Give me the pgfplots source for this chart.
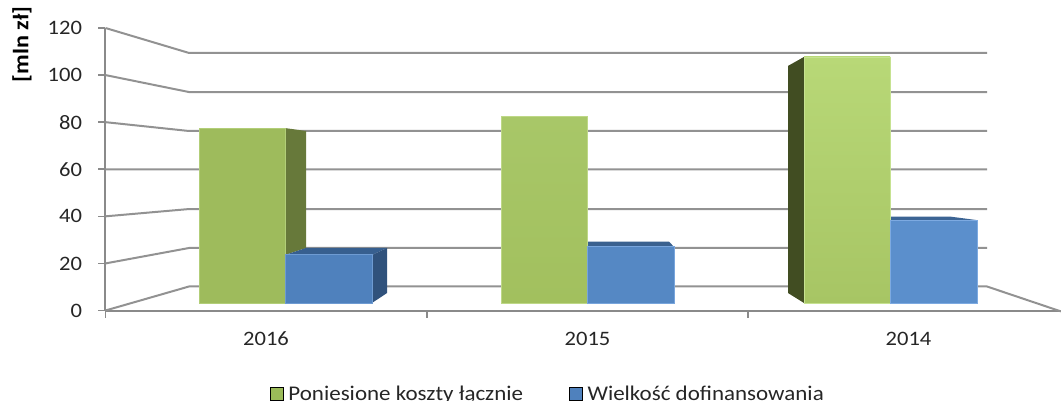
\documentclass[border=0pt]{standalone}
\usepackage{fontspec}
\setmainfont[FakeStretch=1.1]{Carlito}
\usepackage{pgfplots}
\pgfplotsset{compat=1.18}
\definecolor{gridc}{HTML}{929292}
\definecolor{axc}{HTML}{8A8A8A}
\definecolor{txt}{HTML}{262626}
\definecolor{legG}{HTML}{9BBB59}
\definecolor{legB}{HTML}{4F81BD}
\begin{document}
\begin{tikzpicture}[x=1pt,y=1pt]
\useasboundingbox (0,0) rectangle (1061,400);
\begin{axis}[
  at={(105.5pt,89.5pt)},anchor=south west,
  scale only axis,width=955.5pt,height=282.5pt,
  xmin=105.5,xmax=1061,ymin=0,ymax=120,
  clip=false,
  axis x line=bottom,axis y line=left,
  axis line style={-,draw=axc,line width=2pt},
  tick align=outside,
  major tick length=7pt,
  tick style={draw=axc,line width=1.6pt},
  xtick={105.5,427,748},
  xticklabels={2016,2015,2014},
  ytick={0,20,40,60,80,100,120},
  x tick label style={xshift=160.5pt,yshift=-11pt,text=txt},
  y tick label style={xshift=-13pt,text=txt},
  tick label style={font=\fontsize{20.5}{24}\selectfont},
  /pgf/number format/assume math mode=true,
  ylabel={\textbf{[mln zł]}},
  ylabel style={at={(rel axis cs:-0.0874,0.943)},anchor=center,font=\fontsize{22}{26}\selectfont,text=black},
  legend columns=2,
  legend style={at={(0.4646,-0.294)},anchor=center,draw=none,fill=none,
    font=\fontsize{20.9}{24}\selectfont,text=txt,
    nodes={inner xsep=5pt},
    /tikz/every even column/.append style={column sep=41pt}},
  legend image code/.code={\fill[#1] (0pt,-6.5pt) rectangle (13pt,6.5pt);},
  grd/.style={draw=gridc,line width=2pt,forget plot},
  face/.style={draw=none,forget plot},
  front/.style={forget plot,line width=0.9pt},
]
\addlegendimage{fill=legG}
\addlegendimage{fill=legB}
% perspective gridlines
\addplot[grd] coordinates {(105.5,120) (189,109.4) (987,109.4)};
\addplot[grd] coordinates {(105.5,100) (189,92.8) (987,92.8)};
\addplot[grd] coordinates {(105.5,80) (189,76.25) (987,76.25)};
\addplot[grd] coordinates {(105.5,60) (189,59.9) (987,59.9)};
\addplot[grd] coordinates {(105.5,40) (189,43.1) (987,43.1)};
\addplot[grd] coordinates {(105.5,20) (189,26.55) (987,26.55)};
\addplot[grd] coordinates {(105.5,0) (189,10.2) (987,10.2) (1061,-0.4)};
% 2016
\addplot[face,fill={rgb,255:red,103;green,121;blue,58}] coordinates {(285,77.5) (306,76.25) (306,26.55) (285,23.6)} --cycle;
\addplot[face,fill={rgb,255:red,55;green,95;blue,143}] coordinates {(285,23.6) (306,26.55) (387,26.55) (372,23.6)} --cycle;
\addplot[face,fill={rgb,255:red,48;green,82;blue,124}] coordinates {(372,23.6) (387,26.55) (387,7.43) (372,3.19)} --cycle;
\addplot[front,fill={rgb,255:red,158;green,187;blue,92},draw={rgb,255:red,178;green,206;blue,120}] coordinates {(199,77.5) (285,77.5) (285,3.19) (199,3.19)} --cycle;
\addplot[front,fill={rgb,255:red,79;green,129;blue,189},draw={rgb,255:red,110;green,155;blue,210}] coordinates {(285,23.6) (372,23.6) (372,3.19) (285,3.19)} --cycle;
% 2015
\addplot[face,fill={rgb,255:red,58;green,97;blue,143}] coordinates {(587,27.0) (587,29.3) (669,29.3) (674,27.0)} --cycle;
\addplot[front,top color={rgb,255:red,168;green,199;blue,104},bottom color={rgb,255:red,162;green,192;blue,94},draw={rgb,255:red,190;green,216;blue,135}] coordinates {(501,82.4) (587,82.4) (587,3.19) (501,3.19)} --cycle;
\addplot[front,fill={rgb,255:red,85;green,136;blue,196},draw={rgb,255:red,120;green,165;blue,220}] coordinates {(587,27.0) (674,27.0) (674,3.19) (587,3.19)} --cycle;
% 2014
\addplot[face,fill={rgb,255:red,65;green,77;blue,34}] coordinates {(788,103.9) (804,107.7) (804,3.19) (788,7.43)} --cycle;
\addplot[face,fill={rgb,255:red,60;green,100;blue,148}] coordinates {(890,38.4) (890,39.9) (950,39.9) (977,38.4)} --cycle;
\addplot[front,top color={rgb,255:red,184;green,216;blue,119},bottom color={rgb,255:red,167;green,197;blue,100},draw={rgb,255:red,198;green,226;blue,145}] coordinates {(804,107.7) (890,107.7) (890,3.19) (804,3.19)} --cycle;
\addplot[front,fill={rgb,255:red,91;green,143;blue,204},draw={rgb,255:red,125;green,170;blue,225}] coordinates {(890,38.4) (977,38.4) (977,3.19) (890,3.19)} --cycle;
\legend{Poniesione koszty łącznie,Wielkość dofinansowania}
\end{axis}
\end{tikzpicture}
\end{document}
